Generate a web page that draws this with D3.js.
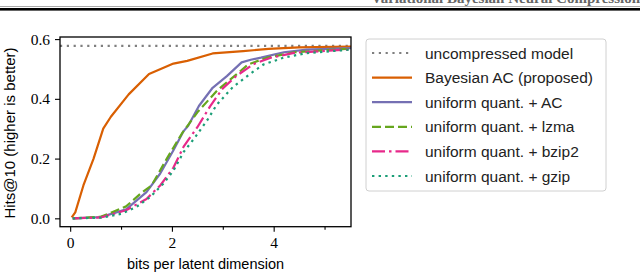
<!DOCTYPE html>
<html>
<head>
<meta charset="utf-8">
<script src="https://cdn.jsdelivr.net/npm/d3@7"></script>
<style>
  body { margin: 0; background: #fff; }
  svg { display: block; }
</style>
</head>
<body>
<div id="chart"></div>
<script>
// data
let uncompressed = 0.577;

let bayesianAC = [[0.03, 0.003], [0.1, 0.02], [0.26, 0.11], [0.46, 0.2], [0.65, 0.3], [0.8, 0.34],
  [1.15, 0.415], [1.55, 0.483], [2.03, 0.518], [2.3, 0.527], [2.8, 0.552], [3.4, 0.56],
  [3.9, 0.567], [4.5, 0.572], [5.6, 0.575]];

let uniformAC = [[0.05, 0], [0.6, 0.004], [1.1, 0.03], [1.5, 0.088], [1.77, 0.15], [2.03, 0.228],
  [2.23, 0.292], [2.32, 0.31], [2.53, 0.376], [2.8, 0.437], [3.08, 0.476], [3.37, 0.522],
  [3.55, 0.531], [3.75, 0.538], [4.2, 0.556], [4.65, 0.565], [5.6, 0.57]];

let uniformLzma = [[0.05, 0], [0.6, 0.005], [1.1, 0.04], [1.4, 0.085], [1.6, 0.11], [1.9, 0.2],
  [2.2, 0.285], [2.5, 0.355], [2.9, 0.43], [3.15, 0.465], [3.5, 0.515], [3.85, 0.537],
  [4.4, 0.556], [5.6, 0.569]];

let uniformBzip2 = [[0.05, 0], [0.6, 0.003], [1.1, 0.027], [1.5, 0.065], [1.77, 0.11], [2.03, 0.17],
  [2.23, 0.24], [2.5, 0.305], [2.75, 0.375], [3.0, 0.435], [3.27, 0.477], [3.6, 0.516],
  [3.93, 0.537], [4.4, 0.554], [5.6, 0.567]];

let uniformGzip = [[0.05, 0], [0.6, 0.002], [1.0, 0.015], [1.3, 0.038], [1.57, 0.071], [1.83, 0.116],
  [2.03, 0.16], [2.23, 0.222], [2.45, 0.27], [2.7, 0.33], [2.88, 0.38], [3.2, 0.44],
  [3.54, 0.484], [3.8, 0.515], [4.2, 0.538], [4.65, 0.553], [5.6, 0.566]];

let seriesNames = ['uncompressed model', 'Bayesian AC (proposed)', 'uniform quant. + AC',
  'uniform quant. + lzma', 'uniform quant. + bzip2', 'uniform quant. + gzip'];

let xTicks = [0, 2, 4];
let xMinorTicks = [1, 3, 5];
let yTicks = [0.0, 0.2, 0.4, 0.6];

// styles
let styles = [
  {color: '#7f7f7f', dash: '2.2,4.6'},
  {color: '#d95f02', dash: null},
  {color: '#7570b3', dash: null},
  {color: '#66a61e', dash: '9,4'},
  {color: '#e7298a', dash: '13,4,2.5,4'},
  {color: '#1b9e77', dash: '2.4,4.2'}
];

let width = 640, height = 278;
let plot = {left: 60, right: 351, top: 37, bottom: 226.7};

let svg = d3.select('#chart')
  .append('svg')
  .attr('width', width)
  .attr('height', height);

// page header remnants (rule + cut-off running title)
svg.append('text')
  .attr('x', 640)
  .attr('y', 2.5)
  .attr('text-anchor', 'end')
  .style('font-family', '"Liberation Serif", serif')
  .style('font-weight', 'bold')
  .style('font-size', '15px')
  .attr('fill', '#666')
  .text('Variational Bayesian Neural Compression');
svg.append('rect').attr('x', 0).attr('y', 6).attr('width', width).attr('height', 1).attr('fill', '#aaa');
svg.append('rect').attr('x', 0).attr('y', 8).attr('width', width).attr('height', 2.6).attr('fill', '#000');

let xScale = d3.scaleLinear()
  .domain([-0.2, 5.52])
  .range([plot.left, plot.right]);

let yScale = d3.scaleLinear()
  .domain([-0.028, 0.607])
  .range([plot.bottom, plot.top]);

svg.append('clipPath').attr('id', 'clip')
  .append('rect')
  .attr('x', plot.left).attr('y', plot.top)
  .attr('width', plot.right - plot.left).attr('height', plot.bottom - plot.top);

let line = d3.line()
  .x(function(d) { return xScale(d[0]); })
  .y(function(d) { return yScale(d[1]); });

let allSeries = [
  [[-0.2, uncompressed], [5.52, uncompressed]],
  bayesianAC, uniformAC, uniformLzma, uniformBzip2, uniformGzip
];

let lines = svg.append('g').attr('clip-path', 'url(#clip)');
allSeries.forEach(function(s, i) {
  lines.append('path')
    .datum(s)
    .attr('d', line)
    .attr('fill', 'none')
    .attr('stroke', styles[i].color)
    .attr('stroke-width', 2.2)
    .attr('stroke-dasharray', styles[i].dash)
    .attr('stroke-linejoin', 'round');
});

// frame
svg.append('rect')
  .attr('x', plot.left).attr('y', plot.top)
  .attr('width', plot.right - plot.left).attr('height', plot.bottom - plot.top)
  .attr('fill', 'none')
  .attr('stroke', '#000')
  .attr('stroke-width', 1.3);

// x axis
let xAxis = svg.append('g')
  .attr('transform', `translate(0,${plot.bottom})`)
  .call(d3.axisBottom(xScale).tickValues(xTicks).tickSize(5).tickPadding(5).tickFormat(d3.format('d')));
svg.append('g')
  .attr('transform', `translate(0,${plot.bottom})`)
  .call(d3.axisBottom(xScale).tickValues(xMinorTicks).tickSize(3).tickFormat(''));

// y axis
let yAxis = svg.append('g')
  .attr('transform', `translate(${plot.left},0)`)
  .call(d3.axisLeft(yScale).tickValues(yTicks).tickSize(5).tickPadding(5).tickFormat(d3.format('.1f')));

svg.selectAll('.domain').remove();
svg.selectAll('.tick line').attr('stroke', '#000').attr('stroke-width', 1.1);
svg.selectAll('.tick text')
  .style('font-family', '"Liberation Serif", "DejaVu Serif", serif')
  .style('font-size', '15.5px')
  .attr('fill', '#000');

// axis labels
svg.append('text')
  .attr('x', (plot.left + plot.right) / 2)
  .attr('y', 269)
  .attr('text-anchor', 'middle')
  .style('font-family', '"Liberation Sans", sans-serif')
  .style('font-size', '14.5px')
  .text('bits per latent dimension');

svg.append('text')
  .attr('transform', 'translate(15,133) rotate(-90)')
  .attr('text-anchor', 'middle')
  .style('font-family', '"Liberation Sans", sans-serif')
  .style('font-size', '15px')
  .text('Hits@10 (higher is better)');

// legend
let legend = svg.append('g');
legend.append('rect')
  .attr('x', 366).attr('y', 39)
  .attr('width', 240).attr('height', 152)
  .attr('rx', 3)
  .attr('fill', '#fff')
  .attr('stroke', '#d0d0d0')
  .attr('stroke-width', 1);

seriesNames.forEach(function(name, i) {
  let yy = 53 + i * 24.6;
  legend.append('line')
    .attr('x1', 372).attr('x2', 412)
    .attr('y1', yy).attr('y2', yy)
    .attr('stroke', styles[i].color)
    .attr('stroke-width', 2.2)
    .attr('stroke-dasharray', styles[i].dash);
  legend.append('text')
    .attr('x', 425)
    .attr('y', yy + 5.5)
    .style('font-family', '"Liberation Sans", sans-serif')
    .style('font-size', '15.5px')
    .attr('fill', '#222')
    .text(name);
});
</script>
</body>
</html>
